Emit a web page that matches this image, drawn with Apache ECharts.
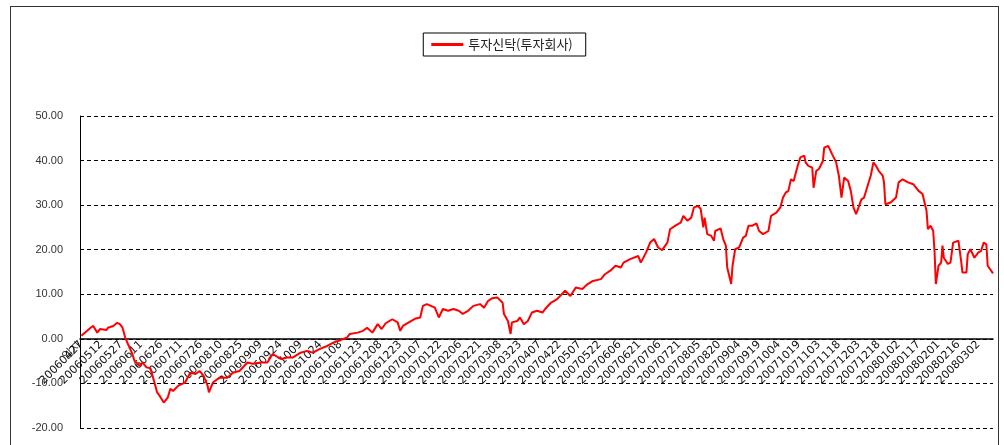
<!DOCTYPE html>
<html>
<head>
<meta charset="utf-8">
<script src="https://cdn.jsdelivr.net/npm/echarts@6/dist/echarts.min.js"></script>
<style>
  html, body { margin: 0; padding: 0; background: #fff; }
  #chart { position: absolute; left: 0; top: 0; width: 1004px; height: 445px; }
  #frame { position: absolute; left: 10px; top: 6px; width: 987px; height: 460px; border: 1px solid #333; pointer-events: none; }
</style>
</head>
<body>
<div id="chart"></div>
<div id="frame"></div>
<script>
// category 0 is the stray header cell, then one category per calendar day from 2006-04-27
const headerLabel = '일자'
const startDate = '20060427'
const dayCount = 687
const labelEvery = 15

const yMin = -20
const yMax = 50

// readings: category index (1 = 20060427) and value
const days = [
  1, 8, 10, 13, 15, 20, 21, 25, 28, 30, 32, 34, 36, 39, 41, 45, 47, 50, 53, 56,
  58, 60, 63, 66, 68, 70, 74, 79, 83, 87, 90, 93, 96, 97, 100, 105, 111, 115, 120, 126,
  130, 136, 141, 145, 151, 156, 160, 166, 171, 175, 181, 186, 191, 196, 201, 203, 209, 213, 216, 220,
  224, 227, 230, 235, 239, 241, 243, 249, 252, 256, 258, 261, 264, 267, 270, 273, 277, 281, 285, 288,
  292, 296, 301, 304, 307, 310, 314, 318, 319, 322, 324, 325, 329, 331, 334, 337, 340, 344, 348, 350,
  354, 359, 365, 369, 373, 378, 382, 386, 392, 395, 399, 403, 407, 409, 414, 420, 422, 426, 429, 432,
  435, 438, 442, 444, 448, 452, 454, 457, 460, 462, 465, 467, 469, 470, 472, 475, 477, 478, 482, 484,
  486, 487, 488, 490, 491, 493, 496, 499, 501, 503, 506, 509, 511, 514, 518, 520, 524, 527, 529, 531,
  533, 535, 537, 540, 542, 545, 546, 548, 551, 552, 554, 556, 559, 560, 563, 566, 569, 571, 573, 575,
  578, 580, 582, 584, 585, 588, 590, 593, 595, 597, 599, 601, 604, 605, 606, 610, 614, 616, 619, 623,
  627, 631, 634, 637, 638, 640, 642, 643, 644, 646, 648, 649, 650, 653, 655, 657, 661, 663, 664, 667,
  668, 670, 673, 676, 678, 680, 682, 683, 687
]
const values = [
  0.7, 2.5, 2.9, 1.4, 2.2, 2.0, 2.5, 2.9, 3.6, 3.3, 2.5, 0.3, -1.1, -3.1, -4.9, -6.1, -5.3, -6.4, -6.6, -9.8,
  -12.0, -12.8, -14.3, -13.2, -11.2, -11.7, -10.5, -9.8, -7.6, -7.9, -7.2, -8.3, -10.5, -12.0, -9.8, -8.7, -8.7, -7.6, -7.2, -5.3,
  -5.6, -5.3, -5.3, -3.4, -4.5, -4.2, -4.2, -3.1, -2.7, -3.1, -2.2, -1.6, -0.8, -0.3, 0.3, 1.1, 1.4, 1.8, 2.5, 1.4,
  3.3, 2.2, 3.5, 4.4, 3.7, 1.8, 2.9, 4.0, 4.5, 4.8, 7.4, 7.8, 7.4, 7.0, 4.8, 6.7, 6.3, 6.7, 6.3, 5.6,
  6.3, 7.4, 7.8, 7.0, 8.5, 9.1, 9.3, 8.1, 5.6, 4.0, 1.1, 3.7, 4.0, 4.8, 3.3, 4.0, 5.9, 6.3, 5.9, 6.7,
  8.0, 8.9, 10.8, 9.6, 11.5, 11.2, 12.3, 13.0, 13.4, 14.5, 15.3, 16.4, 16.0, 17.1, 17.9, 18.6, 17.1, 19.4, 21.6, 22.4,
  20.5, 19.9, 21.6, 24.6, 25.4, 26.1, 27.6, 26.5, 27.2, 29.5, 29.8, 29.2, 25.0, 27.2, 23.5, 23.1, 22.0, 24.2, 24.8, 22.4,
  20.9, 16.0, 15.6, 12.3, 16.4, 20.1, 20.5, 22.7, 23.1, 25.4, 25.4, 25.9, 24.2, 23.5, 24.2, 27.6, 28.3, 29.5, 31.7, 32.8,
  33.2, 35.8, 35.4, 38.8, 40.7, 41.1, 39.6, 38.8, 38.4, 33.9, 37.7, 38.1, 39.9, 42.9, 43.3, 41.4, 39.6, 36.6, 31.7, 36.2,
  35.4, 33.2, 29.5, 28.0, 27.6, 31.3, 31.7, 34.7, 36.6, 39.6, 38.8, 37.7, 36.6, 35.1, 30.2, 30.6, 31.7, 35.1, 35.8, 35.1,
  34.7, 33.2, 32.5, 28.7, 24.6, 25.4, 24.2, 19.7, 12.3, 16.4, 17.1, 20.9, 18.2, 16.8, 17.1, 21.6, 22.0, 17.5, 14.9, 14.9,
  19.0, 20.1, 18.2, 19.4, 19.7, 21.6, 21.2, 16.4, 14.7
]

const seriesName = '투자신탁(투자회사)'

const buildCategories = () => {
  const y = parseInt(startDate.slice(0, 4), 10)
  const m = parseInt(startDate.slice(4, 6), 10)
  const d = parseInt(startDate.slice(6, 8), 10)
  const cats = [headerLabel]
  for (let i = 0; i < dayCount; i++) {
    const dt = new Date(Date.UTC(y, m - 1, d + i))
    const s = dt.getUTCFullYear() + String(dt.getUTCMonth() + 1).padStart(2, '0') + String(dt.getUTCDate()).padStart(2, '0')
    cats.push(s)
  }
  return cats
}

const categories = buildCategories()
const lineData = days.map((day, i) => [day, values[i]])

const gridTop = 116
const gridBottom = 17
const chartH = 445
// put the category axis (line + labels) on the zero line, as Excel does
const plotH = chartH - gridTop - gridBottom
const zeroOffset = -plotH * (0 - yMin) / (yMax - yMin)

const showLabel = (idx) => idx === 0 || (idx - 1) % labelEvery === 0

const chart = echarts.init(document.getElementById('chart'), null, { renderer: 'canvas' })

chart.setOption({
  animation: false,
  backgroundColor: '#fff',
  legend: {
    data: [seriesName],
    top: 33,
    left: 'center',
    padding: [5, 13, 5, 8],
    borderColor: '#000',
    borderWidth: 1,
    borderRadius: 0,
    icon: 'rect',
    itemWidth: 32,
    itemHeight: 3,
    textStyle: {
      color: '#222',
      fontSize: 13,
      fontFamily: 'Noto Sans CJK KR',
    },
  },
  grid: {
    left: 80,
    right: 11,
    top: gridTop,
    bottom: gridBottom,
  },
  xAxis: {
    type: 'category',
    data: categories,
    boundaryGap: false,
    offset: zeroOffset,
    axisLine: {
      onZero: false,
      lineStyle: { color: '#000', width: 1.5 },
    },
    axisTick: { show: false },
    splitLine: { show: false },
    axisLabel: {
      // every category gets a label slot so nothing is auto-hidden; blank the ones Excel skipped
      interval: 0,
      formatter: (val, idx) => (showLabel(idx) ? val : ''),
      hideOverlap: false,
      rotate: 45,
      margin: 4,
      color: '#111',
      fontSize: 11,
      fontFamily: 'DejaVu Sans',
    },
  },
  yAxis: {
    type: 'value',
    min: yMin,
    max: yMax,
    interval: 10,
    axisLine: {
      show: true,
      lineStyle: { color: '#000', width: 1 },
    },
    axisTick: { show: false },
    axisLabel: {
      margin: 17,
      color: '#333',
      fontSize: 11,
      fontFamily: 'Liberation Sans',
      formatter: (v) => v.toFixed(2),
    },
    splitLine: {
      lineStyle: { color: '#000', type: [4, 3], width: 1 },
    },
  },
  series: [
    {
      name: seriesName,
      type: 'line',
      data: lineData,
      showSymbol: false,
      symbol: 'none',
      lineStyle: { color: '#ff0000', width: 2 },
      itemStyle: { color: '#ff0000' },
    },
  ],
})
</script>
</body>
</html>
